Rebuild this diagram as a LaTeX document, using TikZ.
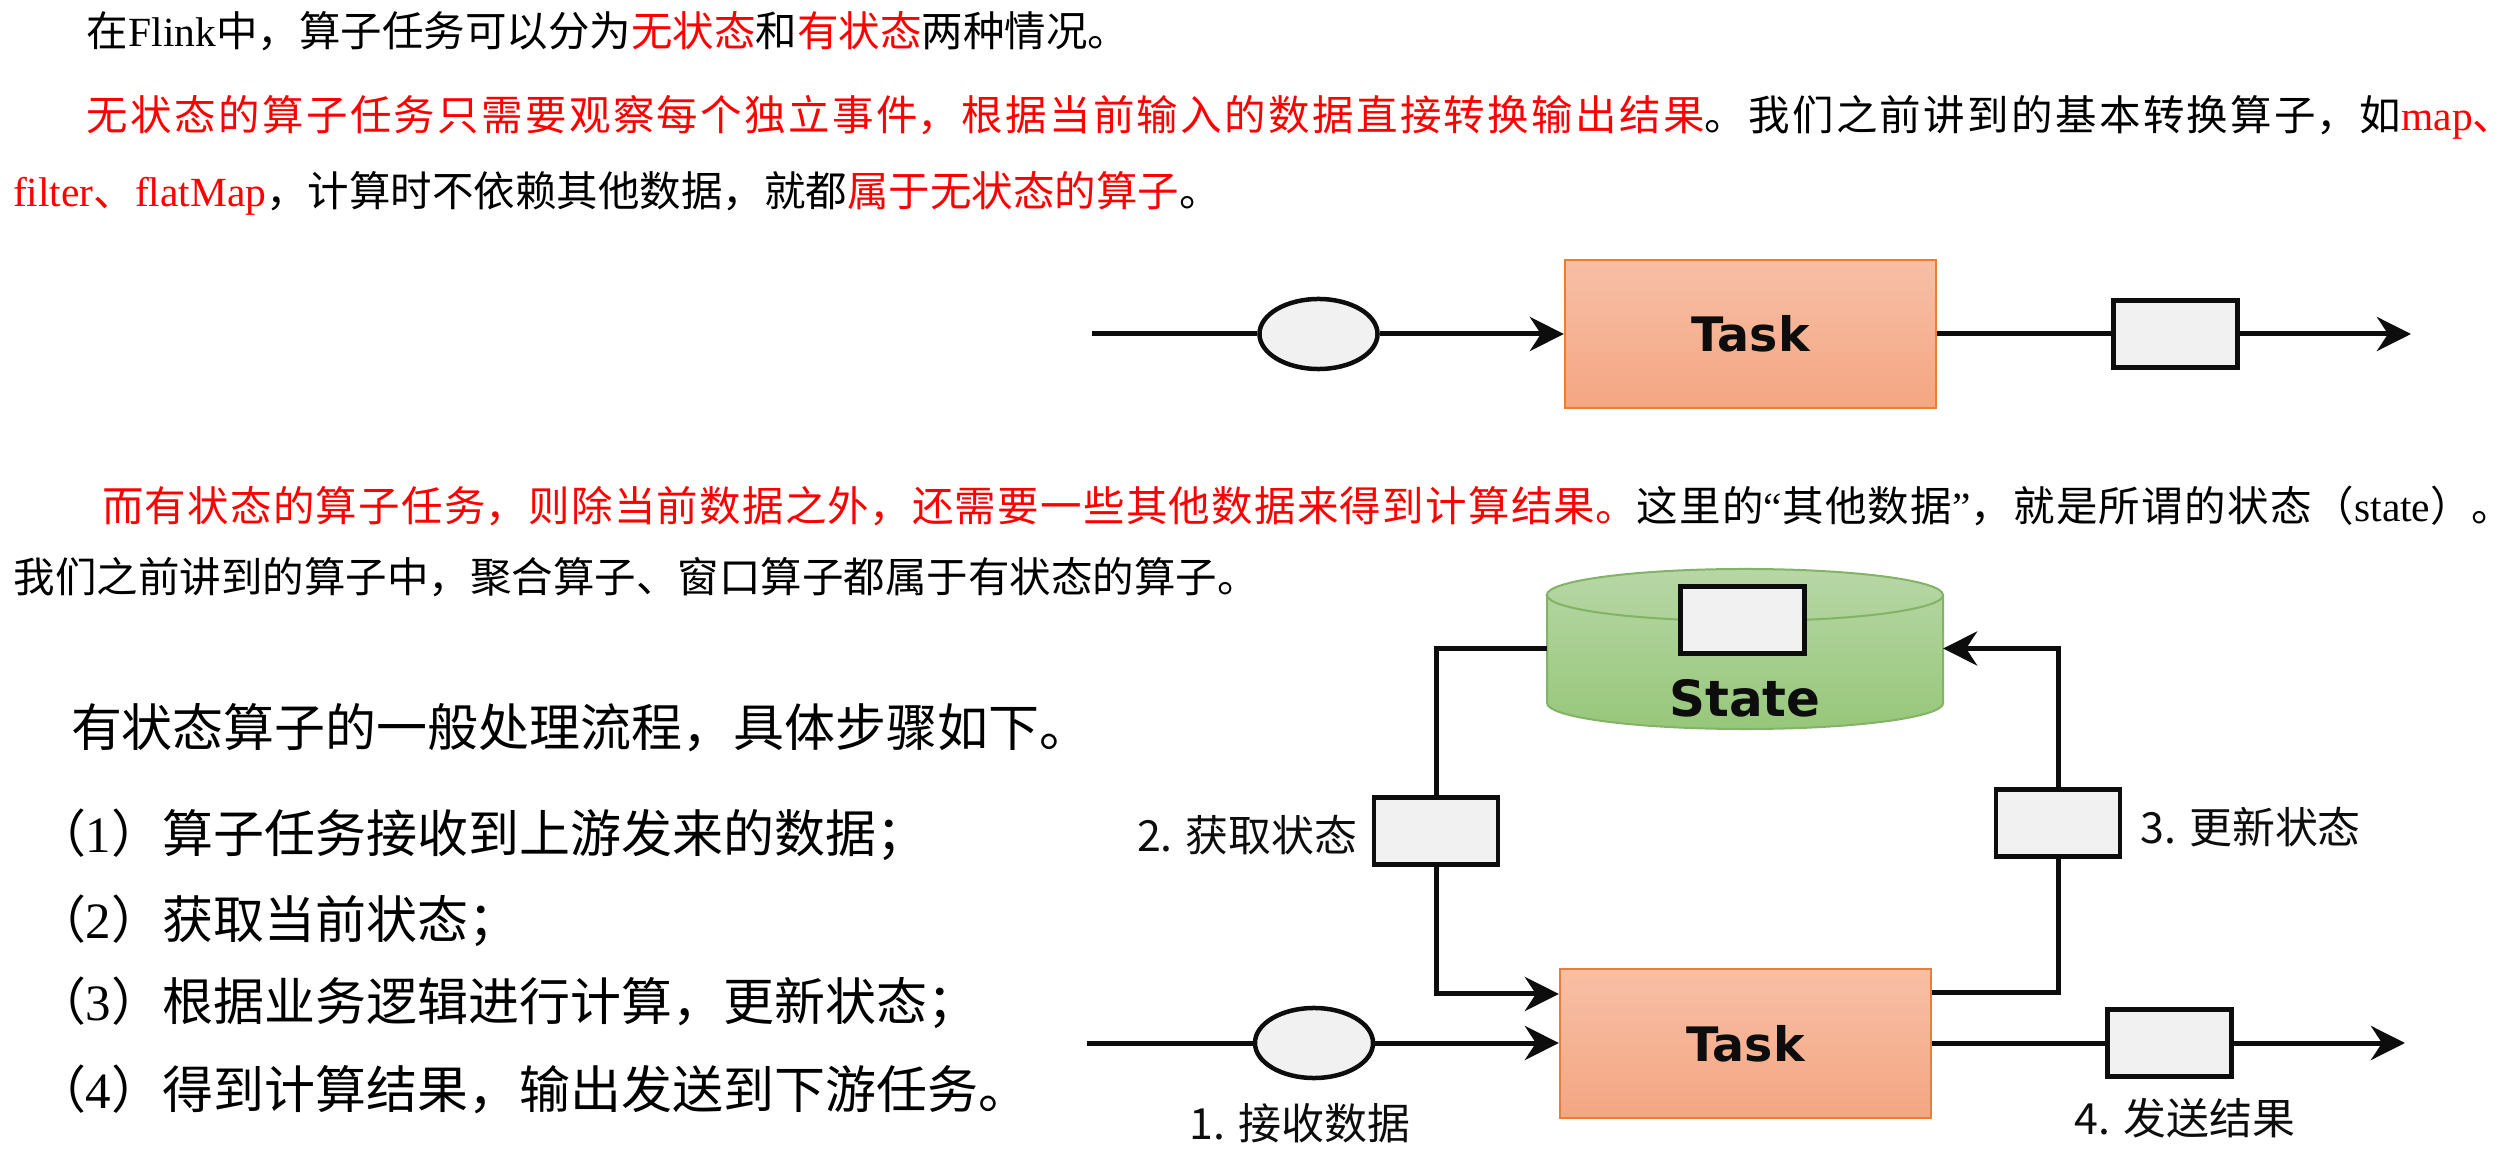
\documentclass[tikz,border=0pt]{standalone}
\usepackage{fontspec}
\setmainfont{Liberation Serif}
\newfontfamily\cjkfont{Noto Sans CJK SC}
\newfontfamily\boxfont{DejaVu Sans}
\usetikzlibrary{arrows.meta,calc,shapes.geometric}

% allow stretchable glue between CJK characters (used for justified lines)
\XeTeXlinebreaklocale "zh"
\XeTeXlinebreakskip=0pt plus 3pt

\definecolor{ink}{RGB}{13,13,13}
\definecolor{hot}{RGB}{255,0,0}
\definecolor{taskTop}{RGB}{247,191,166}
\definecolor{taskBot}{RGB}{244,166,130}
\definecolor{taskLine}{RGB}{237,125,49}
\definecolor{boxFill}{RGB}{241,241,241}
\definecolor{stTop}{RGB}{183,215,166}
\definecolor{stBot}{RGB}{151,199,122}
\definecolor{stLine}{RGB}{130,179,102}

\newcommand\lat[1]{{\rmfamily #1}}
\newcommand\hl[1]{\textcolor{hot}{#1}}

\tikzset{
  bodytext/.style={font=\cjkfont\fontsize{11.8pt}{14pt}\selectfont, inner sep=0pt, outer sep=0pt, anchor=base west},
  listline/.style={font=\cjkfont\fontsize{14.5pt}{17pt}\selectfont, inner sep=0pt, outer sep=0pt, anchor=base west},
  edgelabel/.style={font=\cjkfont\fontsize{12.2pt}{14pt}\selectfont, inner sep=0pt, text=ink},
  taskbox/.style={draw=taskLine, line width=0.02cm, top color=taskTop, bottom color=taskBot,
    minimum width=3.71cm, minimum height=1.48cm, inner sep=0pt,
    font=\boxfont\bfseries\fontsize{13.5pt}{16pt}\selectfont, text=ink},
  msgbox/.style={draw=ink, line width=0.045cm, fill=boxFill, minimum width=1.24cm, minimum height=0.67cm, inner sep=0pt},
  evtbox/.style={ellipse, draw=ink, line width=0.045cm, fill=boxFill, minimum width=1.18cm, minimum height=0.70cm, inner sep=0pt},
  flowline/.style={draw=ink, line width=0.05cm},
  arrowed/.style={-{Stealth[length=0.34cm,width=0.34cm,inset=0.11cm]}},
}

\begin{document}
\begin{tikzpicture}[x=0.01cm, y=-0.01cm]
\useasboundingbox (0,0) rectangle (2517,1161);

% ---------- paragraph text ----------
\node[bodytext] (p1) at (87,47) {在\lat{Flink}中，算子任务可以分为\hl{无状态}和\hl{有状态}两种情况。};
\node[bodytext] (p2) at (87,131) {\parbox[b]{24.26cm}{\parfillskip=0pt \hl{无状态的算子任务只需要观察每个独立事件，根据当前输入的数据直接转换输出结果}。我们之前讲到的基本转换算子，如\hl{\lat{map}、}}};
\node[bodytext] (p3) at (13,207) {\hl{\lat{filter}、\lat{flatMap}}，计算时不依赖其他数据，就都\hl{属于无状态的算子}。};
\node[bodytext] (p4) at (102,522) {\parbox[b]{24.10cm}{\parfillskip=0pt \hl{而有状态的算子任务，则除当前数据之外，还需要一些其他数据来得到计算结果。}这里的\lat{“}其他数据\lat{”}，就是所谓的状态（\lat{state}）。}};
\node[bodytext] (p5) at (14,593) {我们之前讲到的算子中，聚合算子、窗口算子都属于有状态的算子。};

% ---------- step list ----------
\node[listline] (h0) at (71,746) {有状态算子的一般处理流程，具体步骤如下。};
\node[listline] (s1) at (35,853) {（\lat{1}）算子任务接收到上游发来的数据；};
\node[listline] (s2) at (35,939) {（\lat{2}）获取当前状态；};
\node[listline] (s3) at (35,1020) {（\lat{3}）根据业务逻辑进行计算，更新状态；};
\node[listline] (s4) at (35,1108) {（\lat{4}）得到计算结果，输出发送到下游任务。};

% ---------- stateless operator ----------
\coordinate (in1) at (1092,334);
\coordinate (out1) at (2411,334);
\node[evtbox] (e1) at (1318.5,334) {};
\node[taskbox] (t1) at (1750.5,334) {Task};
\node[msgbox] (r1) at (2175.5,334) {};
\draw[flowline] (in1) -- (e1);
\draw[flowline, arrowed] (e1) -- (t1);
\draw[flowline] (t1) -- (r1);
\draw[flowline, arrowed] (r1) -- (out1);

% ---------- stateful operator ----------
% state store (cylinder)
\node[minimum width=3.96cm, minimum height=1.61cm, inner sep=0pt, outer sep=0pt] (st) at (1745,648.5) {};
\shade[top color=stTop, bottom color=stBot]
  (1547,595) -- (1547,703) arc[start angle=180, end angle=360, x radius=1.98cm, y radius=0.26cm]
  -- (1943,595) arc[start angle=0, end angle=180, x radius=1.98cm, y radius=0.26cm] -- cycle;
\draw[stLine, line width=0.02cm]
  (1547,595) -- (1547,703) arc[start angle=180, end angle=360, x radius=1.98cm, y radius=0.26cm]
  -- (1943,595) arc[start angle=0, end angle=180, x radius=1.98cm, y radius=0.26cm] -- cycle;
\draw[stLine, line width=0.02cm]
  (1547,595) arc[start angle=180, end angle=360, x radius=1.98cm, y radius=0.26cm];
\node[msgbox] (slot) at (1742.5,620) {};
\node[anchor=base, inner sep=0pt, font=\boxfont\bfseries\fontsize{14.2pt}{16pt}\selectfont, text=ink] (stname) at (1745,717) {State};

\coordinate (in2) at (1087,1043);
\coordinate (out2) at (2405,1043);
\node[evtbox] (e2) at (1314,1043) {};
\node[taskbox] (t2) at (1745.5,1043.5) {Task};
\node[msgbox] (r4) at (2169.5,1043) {};
\node[msgbox] (r2) at (1436,831) {};
\node[msgbox] (r3) at (2058,823) {};

\draw[flowline] (in2) -- (e2);
\draw[flowline, arrowed] (e2) -- (e2 -| t2.west);
\draw[flowline] (t2.east |- r4) -- (r4);
\draw[flowline, arrowed] (r4) -- (out2);

\draw[flowline] (st.west) -| (r2.north);
\draw[flowline, arrowed] (r2.south) |- ([yshift=0.495cm]t2.west);
\draw[flowline] ([yshift=0.505cm]t2.east) -| (r3.south);
\draw[flowline, arrowed] (r3.north) |- (st.east);

\node[edgelabel] (l1) at (1300,1123) {1. 接收数据};
\node[edgelabel, anchor=east] (l2) at (1358,835) {2. 获取状态};
\node[edgelabel, anchor=west] (l3) at (2140,827) {3. 更新状态};
\node[edgelabel] (l4) at (2185,1118) {4. 发送结果};
\end{tikzpicture}
\end{document}
